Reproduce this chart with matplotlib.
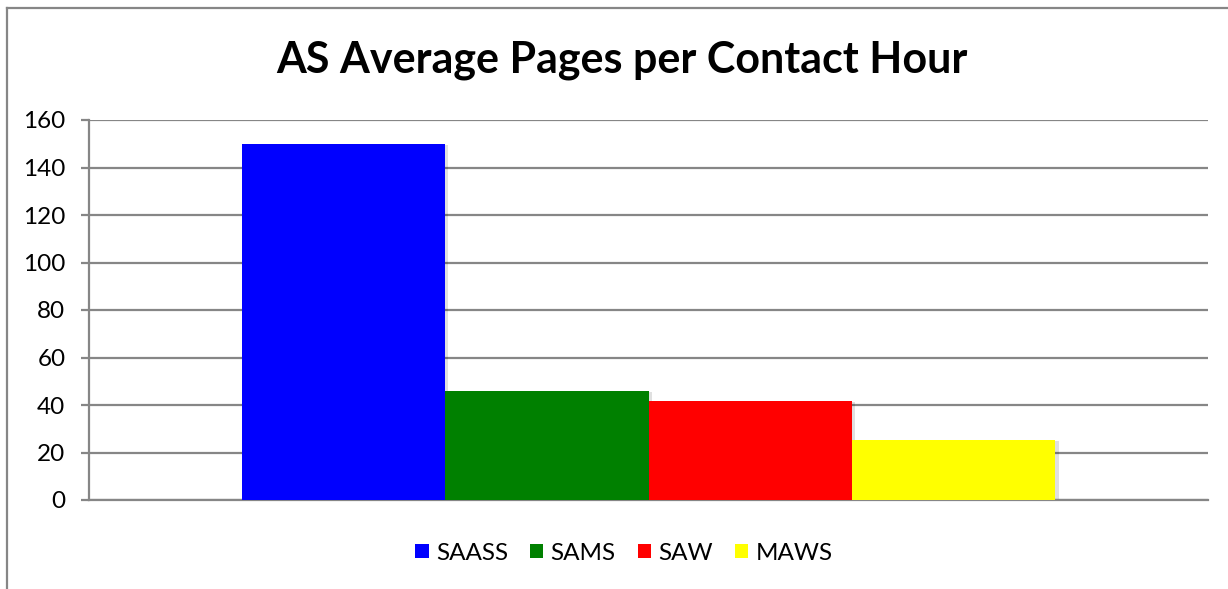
import matplotlib
matplotlib.use('Agg')
import matplotlib.pyplot as plt
from matplotlib.lines import Line2D
import numpy as np

title = 'AS Average Pages per Contact Hour'
series_names = ['SAASS', 'SAMS', 'SAW', 'MAWS']
series_values = [150, 46, 41.7, 25.3]
series_colors = ['#0000ff', '#008000', '#ff0000', '#ffff00']
y_ticks = [0, 20, 40, 60, 80, 100, 120, 140, 160]

plt.rcParams['font.family'] = ['Lato', 'DejaVu Sans']

W, H = 1228, 589
fig = plt.figure(figsize=(W / 100, H / 100), dpi=100)
fig.patch.set_facecolor('white')

ax = fig.add_axes([89 / W, 1 - 500 / H, (1208 - 89) / W, (500 - 120) / H])

grey = '#868686'
# excel style: one category, gap width 150%
bar_w = 1 / (len(series_names) + 1.5)
for i, (name, val, col) in enumerate(zip(series_names, series_values, series_colors)):
    xpos = (i - (len(series_names) - 1) / 2) * bar_w
    # soft shadow
    ax.bar(xpos + 0.003, val, width=bar_w, bottom=-0.6, color='#000000', alpha=0.12,
           linewidth=0, zorder=2)
    ax.bar(xpos, val, width=bar_w, color=col, linewidth=0, label=name, zorder=3)

ax.set_xlim(-0.5, 0.5)
ax.set_ylim(0, 160)
ax.set_yticks(y_ticks)
ax.set_xticks([])
ax.yaxis.grid(True, color=grey, linewidth=1.6)
ax.set_axisbelow(True)
for s in ['top', 'right']:
    ax.spines[s].set_visible(False)
ax.spines['left'].set_color(grey)
ax.spines['left'].set_linewidth(1.6)
ax.spines['bottom'].set_color(grey)
ax.spines['bottom'].set_linewidth(1.6)
ax.tick_params(axis='y', length=6, width=1.6, color=grey, labelsize=17.5, pad=11,
               labelcolor='black')

fig.text(622 / W, 1 - 60 / H, title, ha='center', va='center',
         fontsize=31, fontweight='bold', color='black')

handles, labels = ax.get_legend_handles_labels()
fig.legend(handles, labels, loc='center', bbox_to_anchor=(624 / W, 1 - 553 / H),
           ncol=4, frameon=False, fontsize=17.5, handlelength=0.55, handleheight=0.55,
           handletextpad=0.3, columnspacing=0.9)

# outer chart border (cut off at right and bottom)
fig.add_artist(Line2D([7 / W, 7 / W], [0, 1 - 8 / H], color=grey, linewidth=1.6,
                      transform=fig.transFigure))
fig.add_artist(Line2D([7 / W, 1], [1 - 8 / H, 1 - 8 / H], color=grey, linewidth=1.6,
                      transform=fig.transFigure))

fig.savefig('out.png', dpi=100)
